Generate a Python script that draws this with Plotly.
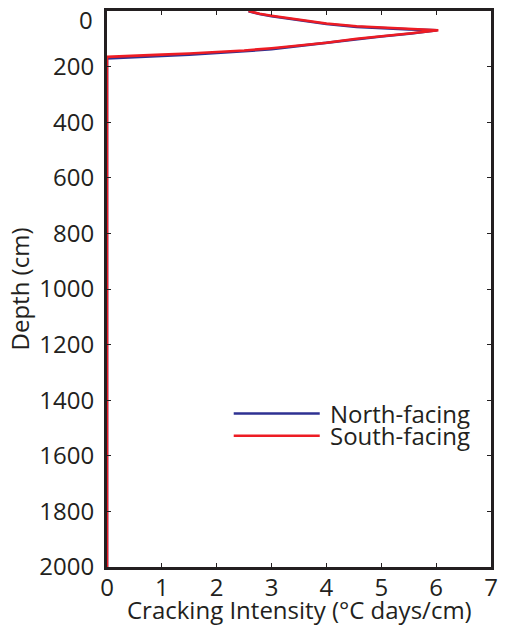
import plotly.graph_objects as go

# Data
depth_south = [0, 10, 17, 30, 45, 55, 60, 65, 69, 80, 90, 100, 114, 125, 134, 142, 148, 153, 157, 161, 165, 2000]
int_south = [2.58, 2.78, 3.0, 3.45, 4.0, 4.55, 5.0, 5.5, 6.04, 5.55, 5.0, 4.55, 4.0, 3.5, 3.0, 2.5, 2.0, 1.5, 1.0, 0.5, 0.0, 0.0]

depth_north = [1, 11, 19, 32, 47, 57, 62, 66, 69, 81, 92, 102, 116, 127, 137, 145, 152, 157, 162, 166, 171, 2000]
int_north = [2.58, 2.78, 3.0, 3.45, 4.0, 4.55, 5.0, 5.5, 6.02, 5.55, 5.0, 4.55, 4.0, 3.5, 3.0, 2.5, 2.0, 1.5, 1.0, 0.5, 0.0, 0.0]

series_names = ["North-facing", "South-facing"]
series_colors = ["#2e3192", "#ed1c24"]

x_ticks = [0, 1, 2, 3, 4, 5, 6, 7]
y_ticks = list(range(0, 2001, 200))
y_ticktext = ["" if v == 0 else str(v) for v in y_ticks]

FONT = "Open Sans"
INK = "#231f20"
FS = 24

fig = go.Figure()
fig.add_trace(go.Scatter(x=int_north, y=depth_north, mode="lines", name=series_names[0],
                         line=dict(color=series_colors[0], width=2.6), showlegend=False))
fig.add_trace(go.Scatter(x=int_south, y=depth_south, mode="lines", name=series_names[1],
                         line=dict(color=series_colors[1], width=2.6), showlegend=False))

axis_common = dict(showline=True, mirror="allticks", linecolor=INK, linewidth=3,
                   ticks="inside", ticklen=4, tickwidth=1, tickcolor=INK,
                   showgrid=False, zeroline=False,
                   tickfont=dict(family=FONT, size=FS, color=INK))

fig.update_xaxes(range=[0, 7], tickvals=x_ticks, ticklabelstandoff=-3, **axis_common)
fig.update_yaxes(range=[2000, 0], tickvals=y_ticks, ticktext=y_ticktext, ticklabelstandoff=5,
                 title=dict(text="Depth (cm)", standoff=3,
                            font=dict(family=FONT, size=FS, color=INK)),
                 **axis_common)

# top "0" label of the depth axis (nudged down inside the page as in the reference)
fig.add_annotation(xref="paper", yref="paper", x=0, y=1, xshift=-12, yshift=-8,
                   text="0", showarrow=False, xanchor="right", yanchor="middle",
                   font=dict(family=FONT, size=FS, color=INK))

# x-axis title
fig.add_annotation(xref="paper", yref="paper", x=0.5, y=0, yshift=-42,
                   text="Cracking Intensity (°C days/cm)", showarrow=False,
                   xanchor="center", yanchor="middle",
                   font=dict(family=FONT, size=FS, color=INK))

# custom legend (long sample lines as in the reference)
leg_y = [0.276, 0.236]
for name, color, yy in zip(series_names, series_colors, leg_y):
    fig.add_shape(type="line", xref="paper", yref="paper", x0=0.33, x1=0.554, y0=yy, y1=yy,
                  line=dict(color=color, width=2.6))
    fig.add_annotation(xref="paper", yref="paper", x=0.575, y=yy, text=name, showarrow=False,
                       xanchor="left", yanchor="middle",
                       font=dict(family=FONT, size=FS, color=INK))

fig.update_layout(width=506, height=628, margin=dict(l=107, r=11, t=8, b=61),
                  plot_bgcolor="white", paper_bgcolor="white", showlegend=False)

fig.write_html("out.html")
